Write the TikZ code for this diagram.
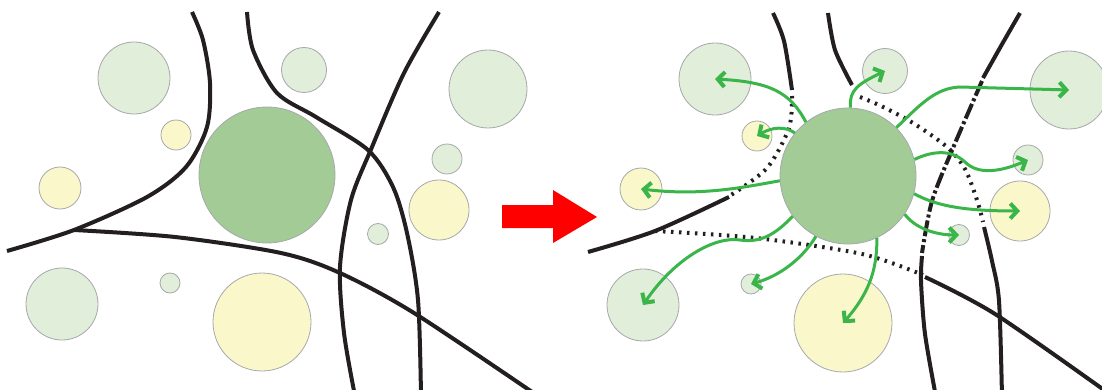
\documentclass[tikz,border=0pt]{standalone}
\usetikzlibrary{arrows.meta}
\definecolor{ink}{HTML}{231F20}
\definecolor{rim}{HTML}{A6A8AB}
\definecolor{palegreen}{HTML}{E1EEDA}
\definecolor{lemon}{HTML}{FAF7CB}
\definecolor{hubgreen}{HTML}{A3CB96}
\definecolor{flowgreen}{HTML}{39B54A}
\begin{document}
\begin{tikzpicture}[x=1pt, y=-1pt,
    fence/.style={draw=ink, line width=4pt},
    dotfence/.style={fence, dash pattern=on 2.5pt off 5.5pt},
    dashfence/.style={fence, dash pattern=on 16pt off 3pt on 3pt off 3pt},
    flow/.style={draw=flowgreen, line width=3pt, -{Straight Barb[length=7pt,width=15pt,line width=4pt]}}]
  \useasboundingbox (0,0) rectangle (1102,390);
  \clip (0,0) rectangle (1102,390);
  % the same circles in both panels
  \foreach \p/\dx/\dy in {1/0/0, 2/581/1} {
    \begin{scope}[shift={(\dx,\dy)},
      every node/.style={circle, draw=rim, line width=0.8pt, inner sep=0pt}]
      \node[fill=hubgreen, minimum size=136pt] (H\p) at (267,175) {};
      \node[fill=palegreen, minimum size=72pt] (A\p) at (134,78) {};
      \node[fill=lemon, minimum size=30pt] (B\p) at (176,135) {};
      \node[fill=lemon, minimum size=42pt] (C\p) at (60,188) {};
      \node[fill=palegreen, minimum size=45pt] (D\p) at (304,70) {};
      \node[fill=palegreen, minimum size=78pt] (E\p) at (488,89) {};
      \node[fill=palegreen, minimum size=30pt] (F\p) at (447,159) {};
      \node[fill=lemon, minimum size=60pt] (G\p) at (439,210) {};
      \node[fill=palegreen, minimum size=21pt] (I\p) at (378,234) {};
      \node[fill=palegreen, minimum size=72pt] (J\p) at (62,304) {};
      \node[fill=palegreen, minimum size=20pt] (K\p) at (170,283) {};
      \node[fill=lemon, minimum size=98pt] (L\p) at (262,322) {};
    \end{scope}
  }
  % left: closed borders
  \draw[fence] plot[smooth] coordinates {(192,12) (203,40) (210,83) (207,127) (186,167) (147,197) (74,230) (7,251)};
  \draw[fence] plot[smooth] coordinates {(247,12) (253,50) (277,93) (316,117) (368,150) (393,187) (407,233) (418,300) (421,396)};
  \draw[fence] plot[smooth] coordinates {(439,12) (404,73) (372,147) (351,200) (340,267) (344,333) (355,396)};
  \draw[fence] plot[smooth] coordinates {(74,230) (175,237) (281,253) (340,273) (414,313) (538,396)};
  % arrow between panels
  \fill[red] (502,205) -- (553,205) -- (553,190) -- (597,217) -- (553,243) -- (553,228) -- (502,228) -- cycle;
  % right: opened borders
  \begin{scope}[shift={(581,1)}]
    \draw[fence] plot[smooth] coordinates {(192,12) (203,40) (211,89)};
    \draw[dotfence] plot[smooth] coordinates {(211,95) (208,127) (186,167) (150,194)};
    \draw[fence] plot[smooth] coordinates {(148,196) (74,230) (7,251)};
    \draw[fence] plot[smooth] coordinates {(247,12) (254,49) (271,84)};
    \draw[dotfence] plot[smooth] coordinates {(279,96) (300,105) (332,122) (366,146) (384,168) (396,199) (402,221)};
    \draw[fence] plot[smooth] coordinates {(403,226) (411,260) (418,300) (421,396)};
    \draw[fence] plot[smooth] coordinates {(439,12) (420,45) (402,77)};
    \draw[dashfence] plot[smooth] coordinates {(401,80) (372,147) (351,200) (341,252)};
    \draw[fence] plot[smooth] coordinates {(341,255) (340,280) (344,333) (355,396)};
    \draw[dotfence] plot[smooth] coordinates {(74,230) (175,237) (281,253) (342,274)};
    \draw[fence] plot[smooth] coordinates {(344,276) (414,313) (530,394)};
  \end{scope}
  % flows out of the hub
  \draw[flow] (H2.128) .. controls (790,92) and (770,82) .. (A2.center);
  \draw[flow] (H2.141) .. controls (785,126) and (772,127) .. (B2.center);
  \draw[flow] (H2.184) .. controls (740,188) and (700,196) .. (C2.center);
  \draw[flow] (H2.216) .. controls (775,235) and (760,243) .. (740,240) .. controls (715,236) and (675,258) .. (J2.center);
  \draw[flow] (H2.242) .. controls (803,258) and (780,276) .. (K2.center);
  \draw[flow] (H2.295) .. controls (877,265) and (872,290) .. (L2.center);
  \draw[flow] (H2.326) .. controls (915,228) and (935,235) .. (I2.center);
  \draw[flow] (H2.345) .. controls (935,205) and (960,211) .. (G2.center);
  \draw[flow] (H2.14) .. controls (930,152) and (950,148) .. (965,162) .. controls (978,175) and (1000,172) .. (F2.center);
  \draw[flow] (H2.45) .. controls (920,105) and (935,88) .. (960,87) -- (E2.center);
  \draw[flow] (H2.88) .. controls (849,90) and (858,84) .. (D2.center);
\end{tikzpicture}
\end{document}
